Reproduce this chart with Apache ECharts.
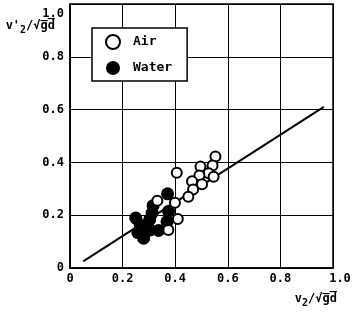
<!DOCTYPE html>
<html><head><meta charset="utf-8">
<script src="https://cdn.jsdelivr.net/npm/echarts@6/dist/echarts.min.js"></script>
<style>html,body{margin:0;padding:0;background:#fff}#c{width:355px;height:315px}</style>
</head><body><div id="c"></div>
<script>
// Air (open circles): [v2/sqrt(gd), v2'/sqrt(gd)]
const airX = [0.553, 0.496, 0.542, 0.406, 0.527, 0.492, 0.546, 0.464, 0.502, 0.468, 0.450, 0.332, 0.399, 0.410, 0.374];
const airY = [0.422, 0.384, 0.388, 0.361, 0.359, 0.350, 0.346, 0.329, 0.317, 0.297, 0.270, 0.255, 0.247, 0.186, 0.144];
// Water (filled circles)
const waterX = [0.371, 0.316, 0.375, 0.250, 0.303, 0.369, 0.267, 0.258, 0.305, 0.337, 0.280, 0.312];
const waterY = [0.281, 0.236, 0.215, 0.189, 0.183, 0.176, 0.163, 0.134, 0.144, 0.142, 0.113, 0.208];
// Correlation line endpoints
const lineX = [0.05, 0.965];
const lineY = [0.025, 0.61];
const tickValues = [0, 0.2, 0.4, 0.6, 0.8, 1.0];
const tickLabels = ['0', '0.2', '0.4', '0.6', '0.8', '1.0'];

const zip = (xs, ys) => xs.map((x, i) => [x, ys[i]]);
const F = 'DejaVu Sans Mono';
const lbl = v => { const i = tickValues.findIndex(t => Math.abs(t - v) < 1e-6); return i >= 0 ? tickLabels[i] : ''; };
const nameRich = {
  b: {fontFamily: F, fontWeight: 'bold', fontSize: 12, color: '#000'},
  s: {fontFamily: F, fontWeight: 'bold', fontSize: 10, color: '#000', padding: [8, 0, 0, 0]}
};
const chart = echarts.init(document.getElementById('c'));
chart.setOption({
  animation: false,
  backgroundColor: '#fff',
  grid: {left: 70, right: 22, top: 4, bottom: 47, show: true, borderColor: '#000', borderWidth: 1.5, backgroundColor: 'transparent'},
  legend: {
    orient: 'vertical', left: 92, top: 28,
    padding: [6, 15, 6, 13], itemGap: 11,
    itemWidth: 30, itemHeight: 14,
    backgroundColor: '#fff', borderColor: '#000', borderWidth: 1.5, borderRadius: 0,
    textStyle: {fontFamily: F, fontWeight: 'bold', fontSize: 13, color: '#000'},
    data: ['Air', 'Water']
  },
  xAxis: {
    type: 'value', min: 0, max: 1, interval: 0.2,
    name: '{b|v}{s|2}{b|/√g̅d̅}', nameLocation: 'end', nameGap: 4,
    nameTextStyle: {align: 'right', verticalAlign: 'top', padding: [22, 0, 0, 0], rich: nameRich},
    axisLine: {show: true, lineStyle: {color: '#000', width: 1.5}},
    axisTick: {show: false},
    splitLine: {show: true, lineStyle: {color: '#000', width: 1}},
    axisLabel: {margin: 5, fontFamily: F, fontWeight: 'bold', fontSize: 12, color: '#000', showMaxLabel: true,
      formatter: v => (Math.abs(v - 1) < 1e-6 ? '{r|' + lbl(v) + '}' : lbl(v)),
      rich: {r: {fontFamily: F, fontWeight: 'bold', fontSize: 12, color: '#000', padding: [0, 0, 0, 14]}}}
  },
  yAxis: {
    type: 'value', min: 0, max: 1, interval: 0.2,
    name: "{b|v'}{s|2}{b|/√g̅d̅}", nameLocation: 'end', nameGap: -22,
    nameTextStyle: {align: 'right', verticalAlign: 'middle', padding: [0, 15, 0, 0], rich: nameRich},
    axisLine: {show: true, lineStyle: {color: '#000', width: 1.5}},
    axisTick: {show: false},
    splitLine: {show: true, lineStyle: {color: '#000', width: 1}},
    axisLabel: {margin: 6, fontFamily: F, fontWeight: 'bold', fontSize: 12, color: '#000',
      formatter: v => (Math.abs(v - 1) < 1e-6 ? '{t|' + lbl(v) + '}' : lbl(v)),
      rich: {t: {fontFamily: F, fontWeight: 'bold', fontSize: 12, color: '#000', padding: [20, 0, 0, 0]}}}
  },
  series: [
    {type: 'line', data: zip(lineX, lineY), symbol: 'none', silent: true,
      lineStyle: {color: '#000', width: 2}, z: 1},
    {name: 'Water', type: 'scatter', data: zip(waterX, waterY), symbol: 'circle', symbolSize: 13,
      itemStyle: {color: '#000', borderColor: '#000', borderWidth: 0, opacity: 1}, z: 2},
    {name: 'Air', type: 'scatter', data: zip(airX, airY), symbol: 'circle', symbolSize: 10,
      itemStyle: {color: '#fff', borderColor: '#000', borderWidth: 2, opacity: 1}, z: 3}
  ]
});
</script></body></html>
